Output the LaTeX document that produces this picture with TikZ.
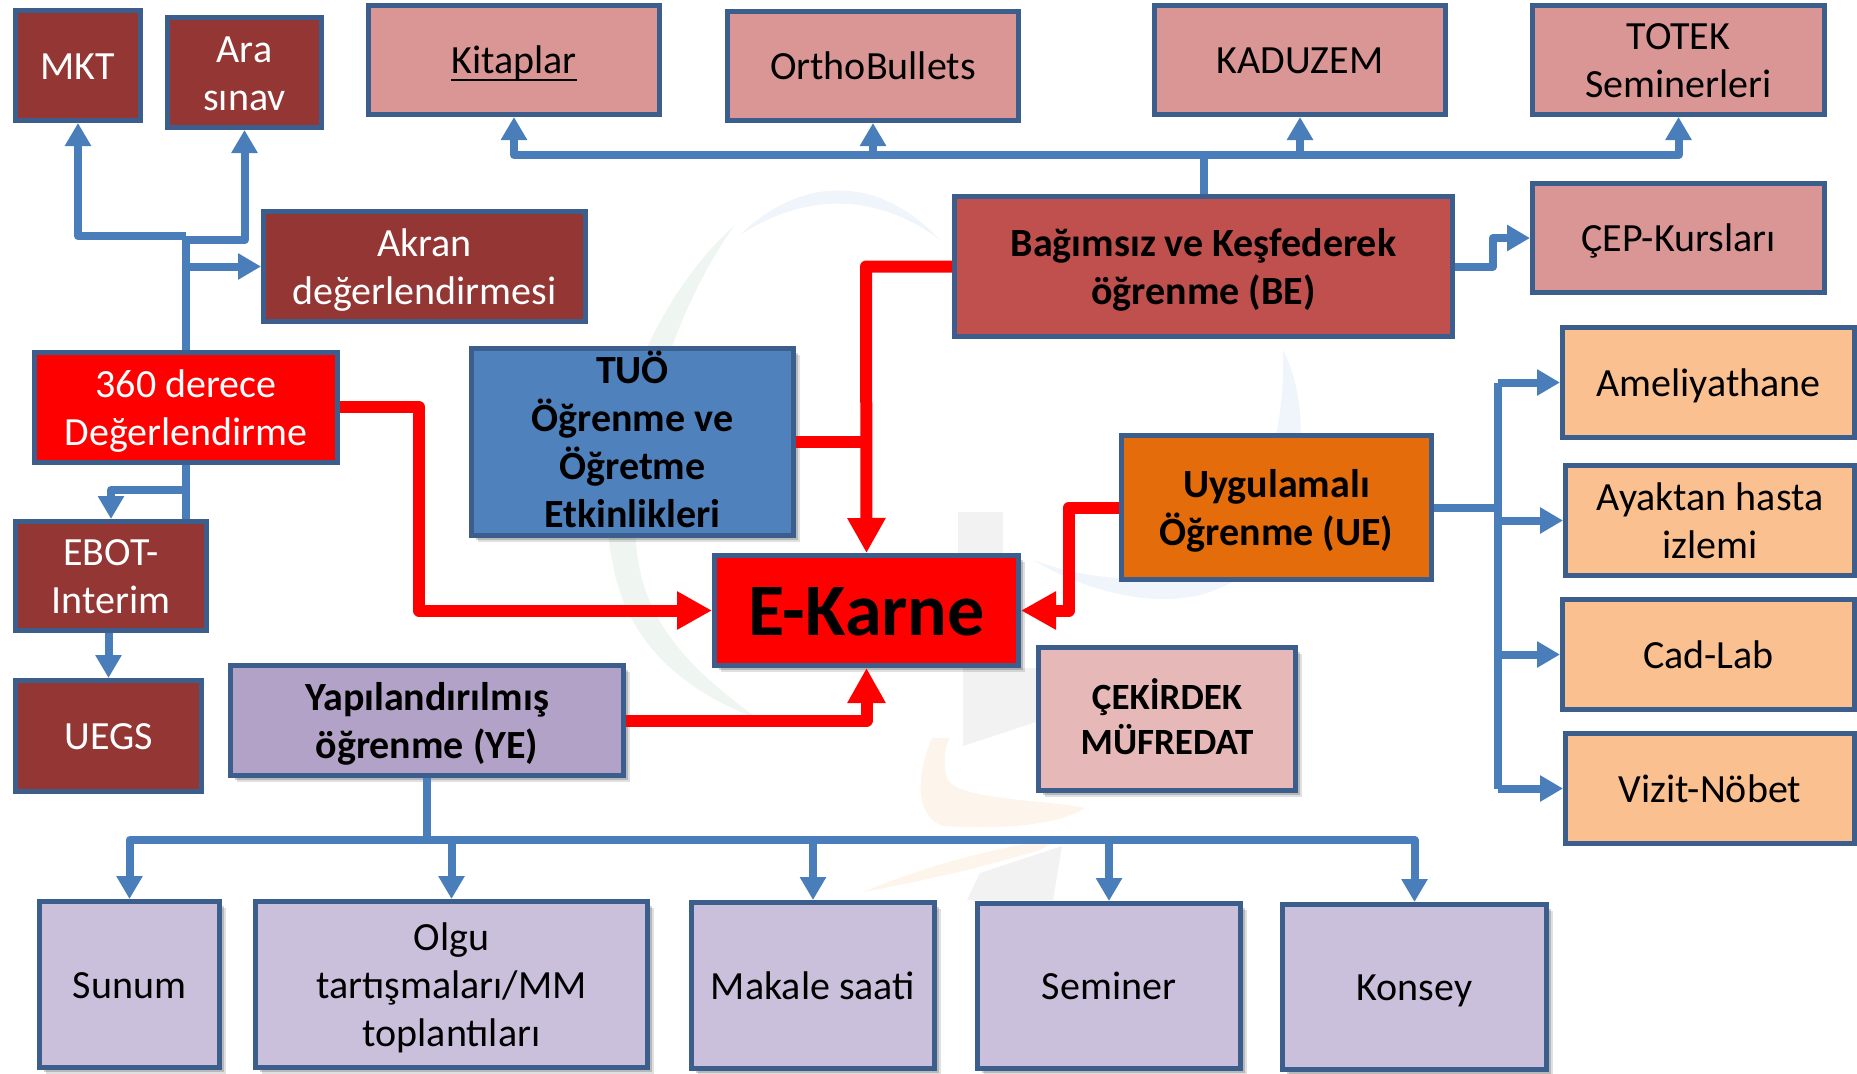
\documentclass[tikz,border=0pt]{standalone}
\usepackage{fontspec}
\setmainfont{Carlito}
\usetikzlibrary{arrows.meta,shadows,calc}
\definecolor{edgeblue}{HTML}{3B5E8C}
\definecolor{linkblue}{HTML}{4A7EBB}
\definecolor{darkred}{HTML}{943634}
\definecolor{pinkred}{HTML}{D99694}
\definecolor{midred}{HTML}{C0504D}
\definecolor{tuoblue}{HTML}{4F81BD}
\definecolor{orangeue}{HTML}{E46C0A}
\definecolor{purpleye}{HTML}{B3A2C7}
\definecolor{lavender}{HTML}{CAC0DB}
\definecolor{rosecore}{HTML}{E6B9B8}
\definecolor{peach}{HTML}{FAC090}
\definecolor{wmgreen}{HTML}{EFF6F2}
\definecolor{wmblue}{HTML}{EFF5FA}
\definecolor{wmgray}{HTML}{F2F2F2}
\definecolor{wmorange}{HTML}{FDF5EC}
\newlength{\kitwd}
\newcommand{\linestrut}{\rule[-.26em]{0pt}{1.2em}}
\tikzset{
  x=1pt,y=-1pt,
  basebox/.style={rectangle,draw=edgeblue,line width=5pt,text centered,align=center,
    inner sep=0pt,font=\fontsize{40}{48}\selectfont},
  softshadow/.style={
    general shadow={shadow xshift=6pt,shadow yshift=-6pt,fill=black,opacity=.12},
    general shadow={shadow xshift=4pt,shadow yshift=-4pt,fill=black,opacity=.18},
    general shadow={shadow xshift=2pt,shadow yshift=-2pt,fill=black,opacity=.2}},
  brickbox/.style={basebox,fill=darkred,text=white},
  pinkbox/.style={basebox,fill=pinkred,text=black},
  lavbox/.style={basebox,fill=lavender,text=black,softshadow},
  peachbox/.style={basebox,fill=peach,text=black},
  boldbox/.style={basebox,font=\fontsize{40}{48}\selectfont\bfseries,text=black},
  tightstrut/.style={execute at begin node={\def\linestrut{\rule[-.19em]{0pt}{1.07em}}}},
  bluelink/.style={draw=linkblue,line width=8pt,line join=round},
  bluearrow/.style={bluelink,-{Triangle[length=23pt,width=25pt]}},
  redlink/.style={draw=red,line width=12pt,line join=round},
  redarrow/.style={redlink,-{Triangle[length=35pt,width=36pt]}},
}
% \placebox{name}{x1}{y1}{x2}{y2}{style}{text} : outer edges in pixels
\newcommand{\placebox}[7]{%
  \pgfmathsetmacro{\cxx}{(#2+#4)/2}\pgfmathsetmacro{\cyy}{(#3+#5)/2}%
  \pgfmathsetmacro{\wdd}{#4-#2-5}\pgfmathsetmacro{\htt}{#5-#3-5}%
  \node[#6,minimum width=\wdd pt,minimum height=\htt pt] (#1) at (\cxx,\cyy) {\linestrut #7\linestrut};}
\begin{document}
\begin{tikzpicture}
\useasboundingbox (0,0) rectangle (1857,1073);
% faint watermark
\fill[wmgreen] (735,225) .. controls (650,300) and (590,450) .. (612,560)
   .. controls (625,640) and (680,690) .. (760,720) .. controls (690,670) and (640,620) .. (636,540)
   .. controls (634,430) and (680,300) .. (735,225) -- cycle;
\fill[wmblue] (740,235) .. controls (790,185) and (870,165) .. (940,240)
   .. controls (880,195) and (810,190) .. (740,235) -- cycle;
\fill[wmblue] (1283,350) .. controls (1320,420) and (1300,560) .. (1215,590)
   .. controls (1180,605) and (1110,605) .. (1033,560) .. controls (1100,585) and (1180,585) .. (1215,555)
   .. controls (1270,500) and (1285,420) .. (1283,350) -- cycle;
\fill[wmgray] (958,512) -- (1003,512) -- (1003,560) -- (958,560) -- cycle;
\fill[wmgray] (963,668) -- (1036,668) -- (1036,722) -- (963,746) -- cycle;
\fill[wmorange] (932,738) .. controls (918,770) and (912,815) .. (943,826)
   .. controls (1000,830) and (1060,825) .. (1085,808) .. controls (1050,800) and (960,800) .. (948,780)
   .. controls (942,765) and (945,745) .. (950,738) -- cycle;
\fill[wmorange] (863,892) .. controls (940,860) and (1010,845) .. (1062,838) -- (1040,850)
   .. controls (990,865) and (930,880) .. (863,892) -- cycle;
\fill[wmgray] (967,900) -- (980,873) -- (1062,846) -- (1053,900) -- cycle;

% boxes
\placebox{mkt}{13}{8}{143}{123}{brickbox}{MKT}
\placebox{ara}{165}{15}{324}{130}{brickbox}{Ara\\sınav}
\placebox{akran}{261}{209}{588}{324}{brickbox}{Akran\\değerlendirmesi}
\placebox{deg}{32}{350}{340}{465}{basebox,fill=red,text=white}{360 derece\\Değerlendirme}
\placebox{ebot}{13}{519}{209}{633}{brickbox}{EBOT-\\Interim}
\placebox{uegs}{13}{678}{204}{794}{brickbox}{UEGS}
\placebox{kit}{366}{3}{662}{117}{pinkbox}{\settowidth{\kitwd}{Kitaplar}Kitaplar\llap{\rule[-7.5pt]{\kitwd}{2.6pt}}}
\placebox{ortho}{725}{9}{1021}{123}{pinkbox}{OrthoBullets}
\placebox{kad}{1152}{3}{1448}{117}{pinkbox}{KADUZEM}
\placebox{totek}{1530}{3}{1827}{117}{pinkbox}{TOTEK\\Seminerleri}
\placebox{cep}{1530}{181}{1827}{295}{pinkbox}{ÇEP-Kursları}
\placebox{be}{952}{194}{1455}{339}{boldbox,fill=midred}{Bağımsız ve Keşfederek\\öğrenme (BE)}
\placebox{tuo}{469}{346}{796}{538}{boldbox,fill=tuoblue,softshadow,tightstrut}{TUÖ\\Öğrenme ve\\Öğretme\\Etkinlikleri}
\placebox{ue}{1119}{433}{1434}{582}{boldbox,fill=orangeue}{Uygulamalı\\Öğrenme (UE)}
\placebox{karne}{712}{553}{1021}{668}{basebox,fill=red,text=black,softshadow,font=\fontsize{74}{80}\selectfont\bfseries}{E-Karne}
\placebox{core}{1036}{645}{1298}{793}{boldbox,fill=rosecore,softshadow,font=\fontsize{37}{45}\selectfont\bfseries}{ÇEKİRDEK\\MÜFREDAT}
\placebox{ye}{228}{663}{626}{778}{boldbox,fill=purpleye,softshadow}{Yapılandırılmış\\öğrenme (YE)}
\placebox{sunum}{37}{899}{222}{1070}{lavbox}{Sunum}
\placebox{olgu}{253}{899}{650}{1070}{lavbox}{Olgu\\tartışmaları/MM\\toplantıları}
\placebox{makale}{689}{900}{937}{1071}{lavbox}{Makale saati}
\placebox{seminer}{975}{901}{1243}{1071}{lavbox}{Seminer}
\placebox{konsey}{1280}{902}{1549}{1072}{lavbox}{Konsey}
\placebox{amel}{1560}{325}{1857}{440}{peachbox}{Ameliyathane}
\placebox{ayak}{1563}{463}{1857}{578}{peachbox}{Ayaktan hasta\\izlemi}
\placebox{cad}{1560}{597}{1857}{712}{peachbox}{Cad-Lab}
\placebox{vizit}{1563}{731}{1857}{846}{peachbox}{Vizit-Nöbet}

% junction points
\coordinate (jmkt) at (186,236);
\coordinate (jara) at (186,240);
\coordinate (jakr) at (186,266.5);
\coordinate (jebot) at (186,490);
\coordinate (jtop) at (1203.5,155);
\coordinate (jbeR) at (1493,266.5);
\coordinate (jye) at (427,840);
\coordinate (jred) at (866,266.5);
\coordinate (jue) at (1498,507.5);
\coordinate (juet) at (1498,382.5);
\coordinate (jueb) at (1498,788.5);
\coordinate (jdeg) at (419,407);
\coordinate (juek) at (1069,507.5);

% blue connectors
\draw[bluelink] (deg.north) -- (jmkt);
\draw[bluearrow] (jmkt) -| (mkt.south);
\draw[bluearrow] (jara) -| (ara.south);
\draw[bluearrow] (jakr) -- (akran.west);
\draw[bluelink] (deg.south) -- (ebot.north -| deg.south);
\draw[bluearrow] (jebot) -| (ebot.north);
\draw[bluearrow] (ebot.south -| uegs.north) -- (uegs.north);
\draw[bluelink] (be.north) -- (jtop);
\draw[bluearrow] (jtop) -| (kit.south);
\draw[bluearrow] (jtop) -| (ortho.south);
\draw[bluearrow] (jtop) -| (kad.south);
\draw[bluearrow] (jtop) -| (totek.south);
\draw[bluearrow] (be.east) -- (jbeR) |- (cep.west);
\draw[bluelink] (ye.south -| jye) -- (jye);
\draw[bluearrow] (jye) -| (sunum.north);
\draw[bluearrow] (jye) -| (olgu.north);
\draw[bluearrow] (jye) -| (makale.north);
\draw[bluearrow] (jye) -| (seminer.north);
\draw[bluearrow] (jye) -| (konsey.north);
\draw[bluelink] (ue.east) -- (jue);
\draw[bluelink] (juet) -- (jueb);
\draw[bluearrow] (juet) -- (juet -| amel.west);
\draw[bluearrow] (jue |- ayak.west) -- (ayak.west);
\draw[bluearrow] (jue |- cad.west) -- (cad.west);
\draw[bluearrow] (jueb) -- (jueb -| vizit.west);

% red connectors
\draw[redarrow] (deg.east |- jdeg) -- (jdeg) |- (karne.west);
\draw[redlink] (tuo.east) -- (tuo.east -| karne.north);
\draw[redarrow] (be.west) -- (jred) -- (karne.north);
\draw[redarrow] (ue.west) -- (juek) |- (karne.east);
\draw[redarrow] (ye.east) -| (karne.south);
\end{tikzpicture}
\end{document}
